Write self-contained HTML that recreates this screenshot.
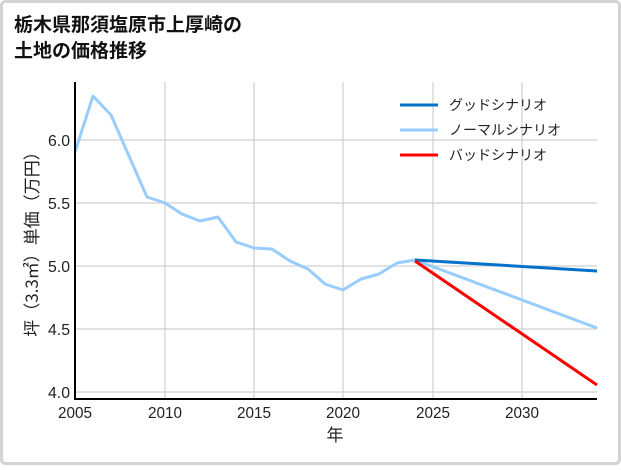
<!DOCTYPE html>
<html><head><meta charset="utf-8"><style>
body{margin:0;background:#fff}
svg text{font-family:"Liberation Sans","Noto Sans CJK JP",sans-serif}
</style></head><body>
<svg width="621" height="465" viewBox="0 0 621 465" xmlns="http://www.w3.org/2000/svg">
<rect x="1.5" y="1.5" width="618" height="462" rx="4" fill="#fff" stroke="#d3d3d3" stroke-width="3"/>
<text x="14" y="31" font-size="19" font-weight="bold" style="font-family:'Noto Sans CJK JP',sans-serif" fill="#111">栃木県那須塩原市上厚崎の</text>
<text x="14" y="57" font-size="19" font-weight="bold" style="font-family:'Noto Sans CJK JP',sans-serif" fill="#111">土地の価格推移</text>
<g stroke="#d0d0d0" stroke-width="1.2">
<line x1="165" y1="82" x2="165" y2="398"/><line x1="254" y1="82" x2="254" y2="398"/><line x1="343" y1="82" x2="343" y2="398"/><line x1="433" y1="82" x2="433" y2="398"/><line x1="522" y1="82" x2="522" y2="398"/>
<line x1="75" y1="140" x2="597" y2="140"/><line x1="75" y1="203" x2="597" y2="203"/><line x1="75" y1="266" x2="597" y2="266"/><line x1="75" y1="329" x2="597" y2="329"/><line x1="75" y1="392" x2="597" y2="392"/>
</g>
<polyline fill="none" stroke="#99ccff" stroke-width="3" stroke-linejoin="round" points="75,152 93,96 111,115 129,156 147,197 165,203 182,214 200,221 218,217 236,242 254,248 272,249 290,261 308,269 325,284 343,290 361,279 379,274 397,263 415,260 597,328"/>
<polyline fill="none" stroke="#0070c8" stroke-width="3" points="415,260 597,271"/>
<polyline fill="none" stroke="#ff0000" stroke-width="3" points="415,261 597,385"/>
<polyline fill="none" stroke="#000" stroke-width="2" points="75,82 75,399 597,399"/>
<g font-size="16" fill="#222" text-anchor="end">
<text x="70" y="146" textLength="22" lengthAdjust="spacingAndGlyphs">6.0</text><text x="70" y="209" textLength="22" lengthAdjust="spacingAndGlyphs">5.5</text><text x="70" y="272" textLength="22" lengthAdjust="spacingAndGlyphs">5.0</text><text x="70" y="335" textLength="22" lengthAdjust="spacingAndGlyphs">4.5</text><text x="70" y="398" textLength="22" lengthAdjust="spacingAndGlyphs">4.0</text>
</g>
<g font-size="16" fill="#222">
<text x="58" y="418" textLength="34" lengthAdjust="spacingAndGlyphs">2005</text><text x="148" y="418" textLength="34" lengthAdjust="spacingAndGlyphs">2010</text><text x="237" y="418" textLength="34" lengthAdjust="spacingAndGlyphs">2015</text><text x="326" y="418" textLength="34" lengthAdjust="spacingAndGlyphs">2020</text><text x="416" y="418" textLength="34" lengthAdjust="spacingAndGlyphs">2025</text><text x="505" y="418" textLength="34" lengthAdjust="spacingAndGlyphs">2030</text>
</g>
<text x="335" y="441" font-size="17" text-anchor="middle" style="font-family:'Noto Sans CJK JP',sans-serif" fill="#222">年</text>
<text transform="translate(38,240) rotate(-90)" font-size="17" text-anchor="middle" style="font-family:'Noto Sans CJK JP',sans-serif" fill="#222">坪（3.3㎡）単価（万円）</text>
<g stroke-width="3">
<line x1="400" y1="105" x2="438" y2="105" stroke="#0070c8"/>
<line x1="400" y1="130" x2="438" y2="130" stroke="#99ccff"/>
<line x1="400" y1="155" x2="438" y2="155" stroke="#ff0000"/>
</g>
<g font-size="14" fill="#222" style="font-family:'Noto Sans CJK JP',sans-serif">
<text x="449" y="110">グッドシナリオ</text>
<text x="449" y="135">ノーマルシナリオ</text>
<text x="449" y="160">バッドシナリオ</text>
</g>
</svg>
</body></html>
